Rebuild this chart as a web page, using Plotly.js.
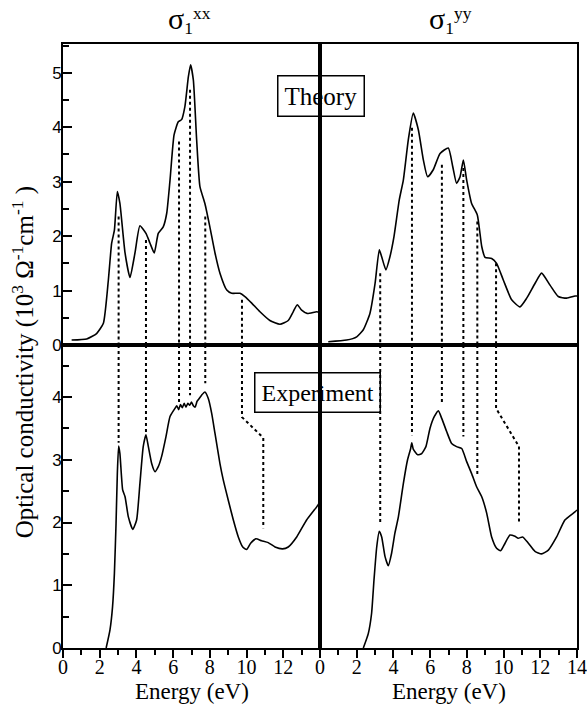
<!DOCTYPE html>
<html>
<head>
<meta charset="utf-8">
<script src="https://cdn.plot.ly/plotly-3.0.1.min.js"></script>
<style>
  html, body { margin: 0; padding: 0; background: #fff; }
  #chart { width: 587px; height: 712px; }
</style>
</head>
<body>
<div id="chart"></div>
<script>
// ---------- Theory, sigma_1^xx ----------
const thXX_E = [0.47,1.29,1.83,2.2,2.47,2.65,2.8,2.96,3.1,3.38,3.65,3.92,4.19,4.52,4.74,4.97,5.19,5.46,5.65,5.83,6.05,6.28,6.46,6.64,6.83,6.95,7.1,7.28,7.46,7.73,8.0,8.28,8.55,8.92,9.19,9.64,9.91,10.28,10.73,11.27,11.82,12.27,12.54,12.76,13.0,13.3,13.82,14.0];
const thXX_S = [0.09,0.11,0.21,0.4,1.19,1.87,2.11,2.82,2.6,1.69,1.24,1.69,2.19,2.05,1.87,1.69,2.05,2.17,2.42,3.03,3.86,4.1,4.14,4.38,4.93,5.15,4.87,3.77,2.91,2.6,2.17,1.69,1.32,1.01,0.95,0.95,0.89,0.77,0.61,0.45,0.38,0.45,0.61,0.74,0.64,0.58,0.61,0.6];

// ---------- Theory, sigma_1^yy ----------
const thYY_E = [0.45,1.45,2.0,2.36,2.72,3.0,3.23,3.36,3.59,3.81,4.03,4.32,4.54,4.81,5.08,5.36,5.63,5.86,6.17,6.54,6.99,7.23,7.44,7.63,7.81,7.99,8.26,8.57,8.81,8.99,9.35,9.62,9.99,10.44,10.89,11.26,11.71,12.07,12.53,12.98,13.43,13.89,14.0];
const thYY_S = [0.06,0.09,0.15,0.28,0.58,1.13,1.75,1.62,1.38,1.62,1.99,2.67,3.03,3.77,4.26,3.95,3.4,3.09,3.22,3.52,3.62,3.28,2.97,3.09,3.4,3.03,2.6,2.39,1.81,1.61,1.59,1.5,1.19,0.83,0.7,0.86,1.13,1.32,1.1,0.89,0.86,0.9,0.9];

// ---------- Experiment, sigma_1^xx ----------
const exXX_E = [2.35,2.56,2.7,2.8,2.89,2.96,3.03,3.1,3.25,3.38,3.56,3.8,4.01,4.19,4.37,4.52,4.65,4.83,5.01,5.19,5.37,5.61,5.83,6.1,6.2,6.3,6.4,6.5,6.6,6.7,6.8,6.9,7.0,7.1,7.2,7.3,7.4,7.55,7.73,7.91,8.1,8.28,8.55,8.73,9.0,9.28,9.55,9.79,10.0,10.22,10.51,10.82,11.18,11.55,11.96,12.27,12.73,13.27,13.82,14.0];
const exXX_S = [0.0,0.29,0.66,1.19,1.99,2.78,3.22,3.1,2.52,2.41,2.09,1.89,2.04,2.62,3.21,3.4,3.21,2.94,2.81,2.89,3.05,3.37,3.69,3.82,3.86,3.8,3.88,3.83,3.9,3.84,3.9,3.87,3.92,3.86,3.84,3.93,3.97,4.03,4.08,3.98,3.74,3.42,2.94,2.68,2.36,2.04,1.77,1.61,1.57,1.67,1.74,1.71,1.68,1.61,1.58,1.61,1.77,2.04,2.25,2.33];

// ---------- Experiment, sigma_1^yy ----------
const exYY_E = [2.36,2.63,2.81,2.94,3.09,3.23,3.36,3.54,3.72,3.9,4.08,4.27,4.54,4.77,4.94,5.0,5.08,5.32,5.54,5.77,5.99,6.23,6.45,6.63,6.9,7.17,7.44,7.72,7.99,8.26,8.53,8.81,9.08,9.35,9.62,9.84,10.08,10.35,10.62,10.8,11.04,11.35,11.71,12.07,12.44,12.89,13.34,13.89,14.0];
const exYY_S = [0.0,0.23,0.55,1.08,1.61,1.86,1.77,1.46,1.31,1.51,1.83,2.09,2.62,3.0,3.18,3.27,3.17,3.08,3.1,3.21,3.5,3.69,3.78,3.66,3.45,3.26,3.21,3.18,2.97,2.78,2.57,2.41,2.15,1.77,1.59,1.55,1.67,1.8,1.78,1.75,1.77,1.67,1.54,1.5,1.56,1.77,2.04,2.17,2.2];

// ---------- Dotted guide lines (theory feature -> experiment feature) ----------
const guideXX_E      = [3.03, 4.52, 6.32, 6.92, 7.75];
const guideXX_thFrom = [2.36, 1.93, 3.74, 4.69, 2.36];
const guideXX_exTo   = [3.27, 3.43, 3.90, 4.03, 4.22];
const bentXX_E = [9.75, 9.75, 10.91, 10.91];  // theory start, kink, shifted, end
const bentXX_V = [0.83, 3.68, 3.35, 1.91];

const guideYY_E      = [3.28, 5.01, 6.64, 7.81, 8.57];
const guideYY_thFrom = [1.32, 3.99, 3.31, 3.25, 2.27];
const guideYY_exTo   = [2.01, 3.39, 3.90, 3.37, 2.73];
const bentYY_E = [9.59, 9.59, 10.84, 10.84];
const bentYY_V = [1.50, 3.82, 3.21, 2.00];

const xTicksLeft  = [0, 2, 4, 6, 8, 10, 12];
const xTicksRight = [0, 2, 4, 6, 8, 10, 12, 14];

const TOP_MAX = 5.53;
const BOT_MAX = 4.83;

const curve = {color: '#000', width: 1.6, shape: 'spline', smoothing: 0.5};
const dotted = {color: '#000', width: 2, dash: 'dot'};

const traces = [];
function addCurve(x, y, xa, ya) {
  traces.push({x: x, y: y, xaxis: xa, yaxis: ya, type: 'scatter', mode: 'lines',
               line: curve, hoverinfo: 'skip', showlegend: false});
}
function addSeg(x, y, xa, ya) {
  traces.push({x: x, y: y, xaxis: xa, yaxis: ya, type: 'scatter', mode: 'lines',
               line: dotted, hoverinfo: 'skip', showlegend: false});
}

addCurve(thXX_E, thXX_S, 'x', 'y');
addCurve(thYY_E, thYY_S, 'x2', 'y2');
addCurve(exXX_E, exXX_S, 'x3', 'y3');
addCurve(exYY_E, exYY_S, 'x4', 'y4');

function addGuides(E, from, to, bentE, bentV, xaTop, yaTop, xaBot, yaBot) {
  for (let i = 0; i < E.length; i++) {
    addSeg([E[i], E[i]], [from[i], 0], xaTop, yaTop);
    addSeg([E[i], E[i]], [BOT_MAX, to[i]], xaBot, yaBot);
  }
  addSeg([bentE[0], bentE[0]], [bentV[0], 0], xaTop, yaTop);
  addSeg([bentE[0], bentE[1], bentE[2], bentE[3]], [BOT_MAX, bentV[1], bentV[2], bentV[3]], xaBot, yaBot);
}
addGuides(guideXX_E, guideXX_thFrom, guideXX_exTo, bentXX_E, bentXX_V, 'x', 'y', 'x3', 'y3');
addGuides(guideYY_E, guideYY_thFrom, guideYY_exTo, bentYY_E, bentYY_V, 'x2', 'y2', 'x4', 'y4');

const serif = '"Liberation Serif", "Times New Roman", serif';
const sans = '"Liberation Sans", Arial, sans-serif';
const splitY = 0.5017;

const frameX = {range: [0, 14], showline: true, linecolor: '#000', linewidth: 2, mirror: true,
                showgrid: false, zeroline: false, ticks: '', showticklabels: false, fixedrange: true};
const leftY = (max, anchor, dom) => ({
  domain: dom, anchor: anchor, range: [0, max], showline: true, linecolor: '#000', linewidth: 2,
  mirror: true, showgrid: false, zeroline: false, ticks: 'inside', ticklen: 9, tickwidth: 2,
  tickcolor: '#000', tickmode: 'linear', tick0: 0, dtick: 1, ticklabelstandoff: -4,
  tickfont: {family: sans, size: 17, color: '#000'},
  minor: {tickmode: 'linear', tick0: 0, dtick: 0.5, ticks: 'inside', ticklen: 6, tickwidth: 2, tickcolor: '#000', showgrid: false},
  fixedrange: true
});
const rightY = (max, anchor, dom) => ({
  domain: dom, anchor: anchor, range: [0, max], showline: true, linecolor: '#000', linewidth: 2,
  mirror: true, showgrid: false, zeroline: false, ticks: '', showticklabels: false, fixedrange: true
});
const bottomX = (dom, anchor, vals) => Object.assign({}, frameX, {
  domain: dom, anchor: anchor, ticks: 'outside', ticklen: 8, tickwidth: 2, tickcolor: '#000',
  showticklabels: true, tickmode: 'array', tickvals: vals, ticktext: vals.map(String),
  ticklabelstandoff: -8,
  tickfont: {family: serif, size: 20, color: '#000'},
  minor: {tickmode: 'linear', tick0: 0, dtick: 1, ticks: 'outside', ticklen: 5, tickwidth: 2, tickcolor: '#000', showgrid: false}
});

const sigmaTitle = (sup) => '<span style="font-size:30px">σ</span><sub>1</sub><sup>' + sup + '</sup>';

const layout = {
  width: 587, height: 712,
  margin: {l: 63, r: 10, t: 44, b: 64, pad: 0},
  paper_bgcolor: '#fff', plot_bgcolor: '#fff',
  showlegend: false,
  xaxis:  Object.assign({}, frameX, {domain: [0, 0.5], anchor: 'y'}),
  xaxis2: Object.assign({}, frameX, {domain: [0.5, 1], anchor: 'y2'}),
  xaxis3: bottomX([0, 0.5], 'y3', xTicksLeft),
  xaxis4: bottomX([0.5, 1], 'y4', xTicksRight),
  yaxis:  leftY(TOP_MAX, 'x', [splitY, 1]),
  yaxis2: rightY(TOP_MAX, 'x2', [splitY, 1]),
  yaxis3: leftY(BOT_MAX, 'x3', [0, splitY]),
  yaxis4: rightY(BOT_MAX, 'x4', [0, splitY]),
  annotations: [
    {text: sigmaTitle('xx'), xref: 'paper', yref: 'paper', x: 0.247, y: 1.04,
     xanchor: 'center', yanchor: 'middle', showarrow: false, font: {family: serif, size: 25, color: '#000'}},
    {text: sigmaTitle('yy'), xref: 'paper', yref: 'paper', x: 0.753, y: 1.04,
     xanchor: 'center', yanchor: 'middle', showarrow: false, font: {family: serif, size: 25, color: '#000'}},
    {text: 'Theory', xref: 'paper', yref: 'paper', x: 0.502, y: 0.914, xanchor: 'center', yanchor: 'middle',
     showarrow: false, bordercolor: '#000', borderwidth: 1.5, borderpad: 6, bgcolor: 'rgba(0,0,0,0)',
     font: {family: serif, size: 25, color: '#000'}},
    {text: 'Experiment', xref: 'paper', yref: 'paper', x: 0.496, y: 0.423, xanchor: 'center', yanchor: 'middle',
     showarrow: false, bordercolor: '#000', borderwidth: 1.5, borderpad: 6, bgcolor: 'rgba(0,0,0,0)',
     font: {family: serif, size: 24, color: '#000'}},
    {text: 'Energy (eV)', xref: 'paper', yref: 'paper', x: 0.25, y: -0.072, xanchor: 'center', yanchor: 'middle',
     showarrow: false, font: {family: serif, size: 23, color: '#000'}},
    {text: 'Energy (eV)', xref: 'paper', yref: 'paper', x: 0.75, y: -0.072, xanchor: 'center', yanchor: 'middle',
     showarrow: false, font: {family: serif, size: 23, color: '#000'}},
    {text: 'Optical conductivity (10<sup>3</sup> Ω<sup>-1</sup>cm<sup>-1</sup> )', xref: 'paper', yref: 'paper',
     x: -0.078, y: 0.473, xanchor: 'center', yanchor: 'middle', textangle: -90, showarrow: false,
     font: {family: serif, size: 25, color: '#000'}}
  ]
};

Plotly.newPlot('chart', traces, layout, {staticPlot: true, displayModeBar: false});
</script>
</body>
</html>
